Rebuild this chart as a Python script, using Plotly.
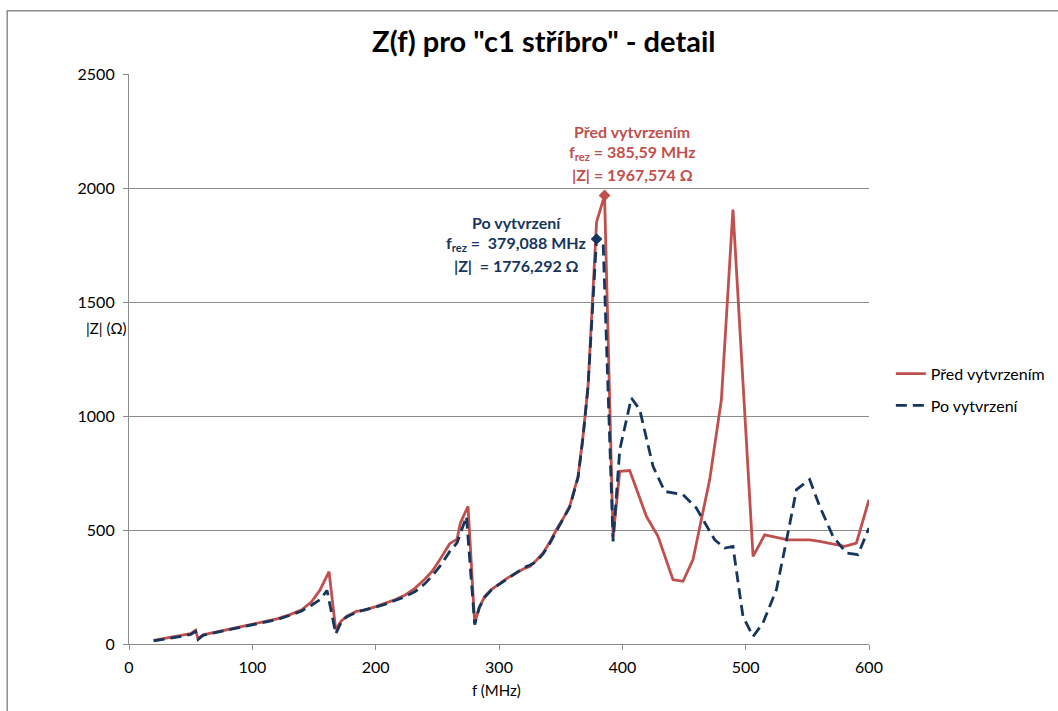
import plotly.graph_objects as go

# |Z| vs. frequency, before curing ("Před vytvrzením")
f_pred = [20, 30, 40, 50, 54, 56, 60, 70, 80, 90, 100, 110, 120, 130, 140, 148, 155,
          162.2, 167.6, 172, 176.3, 184.4, 192, 200.6, 208, 216, 224, 232, 240, 246,
          252, 260, 266, 268.7, 274.9, 280.3, 284, 288.4, 294, 300.6, 307, 314, 320,
          324.9, 330, 335.7, 341, 346.5, 352, 357.3, 364.1, 368.1, 372.2, 379.088,
          385.59, 392.5, 397.9, 406, 419.5, 428.9, 441.1, 449.2, 457.3, 470.8, 480.3,
          489.7, 506, 515.4, 534.3, 551.9, 560, 580.3, 589.8, 600]
z_pred = [16, 25, 33, 45, 60, 22, 40, 52, 63, 75, 85, 97, 110, 128, 150, 185, 238,
          317, 63, 100, 121, 143, 150, 165, 178, 195, 215, 245, 285, 320,
          370, 440, 460, 531, 604, 92, 160, 209, 240, 264, 290, 311, 330,
          340, 365, 399, 445, 501, 550, 604, 735, 911, 1130, 1850,
          1967.574, 470, 757, 761, 560, 472, 282, 275, 370, 720, 1071,
          1905, 384, 479, 457, 457, 450, 428, 443, 633]

# |Z| vs. frequency, after curing ("Po vytvrzení")
f_po = [20, 30, 40, 50, 54, 56, 60, 70, 80, 90, 100, 110, 120, 130, 140, 148, 155,
        160.6, 167.6, 172, 176.3, 184.4, 192, 200.6, 208, 216, 224, 232, 240, 246,
        252, 260, 266, 273.6, 280.3, 284, 288.4, 294, 300.6, 307, 314, 320, 324.9,
        330, 335.7, 341, 346.5, 352, 357.3, 364.1, 368.1, 372.2, 379.088, 384.4,
        392.5, 397.9, 407.3, 414.1, 424.9, 434.4, 449.2, 460, 474.9, 483, 489.7,
        497.8, 506, 514, 524.9, 534.3, 541.2, 551.9, 560, 570.8, 581.7, 591.1, 600]
z_po = [14, 22, 31, 42, 55, 20, 38, 50, 62, 73, 84, 95, 107, 125, 145, 170, 195,
        235, 45, 95, 118, 140, 150, 163, 175, 190, 208, 230, 265, 300,
        340, 405, 444, 560, 85, 160, 205, 238, 262, 288, 310, 335, 345,
        360, 395, 440, 495, 550, 600, 730, 905, 1130, 1776.292, 1766,
        450, 852, 1079, 1028, 779, 669, 655, 596, 457, 421, 428,
        121, 33, 92, 238, 487, 677, 721, 604, 472, 399, 392, 509]

# Resonance points
res_pred = (385.59, 1967.574)
res_po = (379.088, 1776.292)

RED = "#C0504D"
BLUE = "#17365D"
GRID = "#8C8C8C"
FONT = "Lato"

fig = go.Figure()
fig.add_trace(go.Scatter(x=f_pred, y=z_pred, mode="lines", name="Před vytvrzením",
                         legendgroup="pred",
                         line=dict(color=RED, width=2.8)))
fig.add_trace(go.Scatter(x=f_po, y=z_po, mode="lines", name="Po vytvrzení",
                         legendgroup="po",
                         line=dict(color=BLUE, width=2.8, dash="11px,6px")))
fig.add_trace(go.Scatter(x=[res_pred[0]], y=[res_pred[1]], mode="markers",
                         marker=dict(symbol="diamond", size=9, color=RED),
                         showlegend=False, hoverinfo="skip"))
fig.add_trace(go.Scatter(x=[res_po[0]], y=[res_po[1]], mode="markers",
                         marker=dict(symbol="diamond", size=9, color=BLUE),
                         showlegend=False, hoverinfo="skip"))

def fmt(v, dec):
    return f"{v:.{dec}f}".replace(".", ",")

# Resonance labels, one annotation per line for tight line spacing
labels = [
    (408, [2248, 2155, 2058], RED,
     ["Před vytvrzením",
      f"f<sub>rez</sub> = {fmt(res_pred[0], 2)} MHz",
      f"|Z| = {fmt(res_pred[1], 3)} Ω"]),
    (314, [1849, 1756, 1659], BLUE,
     ["Po vytvrzení",
      f"f<sub>rez</sub> =  {fmt(res_po[0], 3)} MHz",
      f"|Z|  = {fmt(res_po[1], 3)} Ω"]),
]
for xc, ys, col, lines in labels:
    for yy, txt in zip(ys, lines):
        fig.add_annotation(x=xc, y=yy, xref="x", yref="y", text=f"<b>{txt}</b>",
                           showarrow=False, xanchor="center", yanchor="middle",
                           font=dict(family=FONT, size=16, color=col))

# Axis titles
fig.add_annotation(x=-0.030, y=0.555, xref="paper", yref="paper", text="|Z| (Ω)",
                   showarrow=False, xanchor="center", yanchor="middle",
                   font=dict(family=FONT, size=15, color="#000000"))
fig.add_annotation(x=0.497, y=-0.08, xref="paper", yref="paper", text="f (MHz)",
                   showarrow=False, xanchor="center", yanchor="middle",
                   font=dict(family=FONT, size=15, color="#000000"))

# Chart frame
fig.add_shape(type="rect", xref="paper", yref="paper",
              x0=-0.1646, y0=-0.2, x1=1.3, y1=1.111,
              line=dict(color="#8C8C8C", width=1.5), fillcolor="rgba(0,0,0,0)",
              layer="below")

fig.update_layout(
    width=1058, height=711,
    margin=dict(l=129, r=189, t=74, b=67, autoexpand=False),
    paper_bgcolor="white", plot_bgcolor="white",
    title=dict(text="<b>Z(f) pro \"c1 stříbro\" - detail</b>", x=0.514, xref="container",
               xanchor="center", y=0.941, yanchor="middle",
               font=dict(family=FONT, size=29, color="#000000")),
    font=dict(family=FONT, size=15, color="#000000"),
    legend=dict(x=0.842, y=0.452, xref="container", yref="container",
                xanchor="left", yanchor="middle",
                font=dict(family=FONT, size=16, color="#000000"),
                bgcolor="rgba(0,0,0,0)", itemwidth=30, tracegroupgap=8),
    showlegend=True,
)
fig.update_xaxes(range=[0, 600], dtick=100, tick0=0, showgrid=False,
                 showline=True, linecolor=GRID, linewidth=1.2,
                 ticks="outside", ticklen=5, tickcolor=GRID, ticklabelstandoff=4,
                 tickfont=dict(family=FONT, size=16, color="#000000"),
                 zeroline=False, fixedrange=True)
fig.update_yaxes(range=[0, 2500], dtick=500, tick0=0, showgrid=True,
                 gridcolor=GRID, gridwidth=1.2,
                 showline=True, linecolor=GRID, linewidth=1.2,
                 ticks="outside", ticklen=5, tickcolor=GRID, ticklabelstandoff=5,
                 tickfont=dict(family=FONT, size=16, color="#000000"),
                 zeroline=False, fixedrange=True)

fig.write_html("out.html")
